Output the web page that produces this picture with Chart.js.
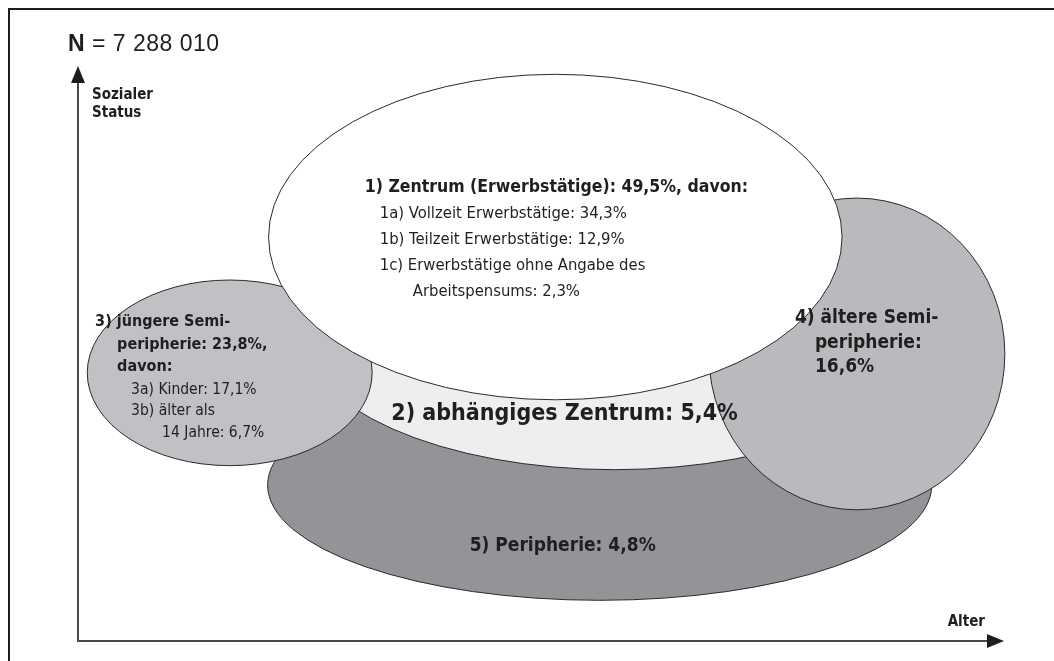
<!DOCTYPE html>
<html>
<head>
<meta charset="utf-8">
<script src="https://cdn.jsdelivr.net/npm/chart.js@4.4.0/dist/chart.umd.min.js"></script>
<style>
html, body { margin: 0; padding: 0; background: #fff; }
canvas { display: block; }
</style>
</head>
<body>
<canvas id="graficoGruppen" width="1054" height="661"></canvas>
<script>
// Daten
var gesamtzahl = '7 288 010';
var achsen = ['Alter', 'Sozialer', 'Status'];
var gruppen = ['Zentrum (Erwerbstätige)', 'abhängiges Zentrum', 'jüngere Semiperipherie', 'ältere Semiperipherie', 'Peripherie'];
var anteile = [49.5, 5.4, 23.8, 16.6, 4.8];
var zentrumTeile = ['Vollzeit Erwerbstätige', 'Teilzeit Erwerbstätige', 'Erwerbstätige ohne Angabe des Arbeitspensums'];
var zentrumAnteile = [34.3, 12.9, 2.3];
var semiTeile = ['Kinder', 'älter als 14 Jahre'];
var semiAnteile = [17.1, 6.7];

// Lage der Ellipsen in Achseneinheiten (0-100), in Zeichenreihenfolge
var ellipsen = [
	{ gruppe: 4, x: 56.4, y: 27.2, rx: 35.9, ry: 20.1, farbe: '#939497' },
	{ gruppe: 1, x: 58.0, y: 54.3, rx: 34.0, ry: 24.4, farbe: '#eeeeef' },
	{ gruppe: 2, x: 16.4, y: 46.8, rx: 15.4, ry: 16.2, farbe: '#c0c1c4' },
	{ gruppe: 3, x: 84.2, y: 50.1, rx: 16.0, ry: 27.2, farbe: '#b9babd' },
	{ gruppe: 0, x: 51.6, y: 70.5, rx: 31.0, ry: 28.4, farbe: '#ffffff' }
];

var SCHMAL = "'Liberation Sans Narrow', 'DejaVu Sans Condensed', sans-serif";

function pz(v) {
	return v.toFixed(1).replace('.', ',') + '%';
}

function teilen(text, wort) {
	var i = text.indexOf(wort);
	return [text.substring(0, i + wort.length), text.substring(i + wort.length + 1)];
}

function texte() {
	var z3 = teilen(zentrumTeile[2], 'des');
	var s3 = teilen(semiTeile[1], 'als');
	return [
		{ x: 31.0, y: 79.1, ausrichtung: 'left', zeilen: [
			{ t: '1) ' + gruppen[0] + ': ' + pz(anteile[0]) + ', davon:', dx: 0, dy: 0, fett: true, gr: 17.5 },
			{ t: '1a) ' + zentrumTeile[0] + ': ' + pz(zentrumAnteile[0]), dx: 15, dy: 26, gr: 16.5 },
			{ t: '1b) ' + zentrumTeile[1] + ': ' + pz(zentrumAnteile[1]), dx: 15, dy: 52, gr: 16.5 },
			{ t: '1c) ' + z3[0], dx: 15, dy: 78, gr: 16.5 },
			{ t: z3[1] + ': ' + pz(zentrumAnteile[2]), dx: 48, dy: 104, gr: 16.5 }
		]},
		{ x: 1.85, y: 55.7, ausrichtung: 'left', zeilen: [
			{ t: '3) ' + gruppen[2].replace('peripherie', '-'), dx: 0, dy: 0, fett: true, gr: 16 },
			{ t: 'peripherie: ' + pz(anteile[2]) + ',', dx: 22, dy: 23, fett: true, gr: 16 },
			{ t: 'davon:', dx: 22, dy: 45, fett: true, gr: 16 },
			{ t: '3a) ' + semiTeile[0] + ': ' + pz(semiAnteile[0]), dx: 36, dy: 68, gr: 15.5 },
			{ t: '3b) ' + s3[0], dx: 36, dy: 89, gr: 15.5 },
			{ t: s3[1] + ': ' + pz(semiAnteile[1]), dx: 67, dy: 111, gr: 15.5 }
		]},
		{ x: 77.5, y: 56.4, ausrichtung: 'left', zeilen: [
			{ t: '4) ' + gruppen[3].replace('peripherie', '-'), dx: 0, dy: 0, fett: true, gr: 19 },
			{ t: 'peripherie:', dx: 20, dy: 25, fett: true, gr: 19 },
			{ t: pz(anteile[3]), dx: 20, dy: 49, fett: true, gr: 19 }
		]},
		{ x: 52.6, y: 39.6, ausrichtung: 'center', zeilen: [
			{ t: '2) ' + gruppen[1] + ': ' + pz(anteile[1]), dx: 0, dy: 0, fett: true, gr: 23 }
		]},
		{ x: 52.4, y: 16.6, ausrichtung: 'center', zeilen: [
			{ t: '5) ' + gruppen[4] + ': ' + pz(anteile[4]), dx: 0, dy: 0, fett: true, gr: 19 }
		]}
	];
}

function pfeil(ctx, x, y, richtung) {
	ctx.beginPath();
	if (richtung === 'oben') {
		ctx.moveTo(x, y);
		ctx.lineTo(x - 7, y + 17);
		ctx.lineTo(x + 7, y + 17);
	} else {
		ctx.moveTo(x, y);
		ctx.lineTo(x - 17, y - 7);
		ctx.lineTo(x - 17, y + 7);
	}
	ctx.closePath();
	ctx.fill();
}

var diagrammPlugin = {
	id: 'diagramm',
	beforeDatasetsDraw: function(chart) {
		var ctx = chart.ctx;
		var sx = chart.scales.x;
		var sy = chart.scales.y;
		var area = chart.chartArea;

		ctx.save();

		// Rahmen
		ctx.strokeStyle = '#1e1e1e';
		ctx.lineWidth = 2;
		ctx.beginPath();
		ctx.moveTo(9, chart.height);
		ctx.lineTo(9, 9);
		ctx.lineTo(chart.width, 9);
		ctx.stroke();

		// Achsen
		ctx.strokeStyle = '#4a4a4a';
		ctx.fillStyle = '#1e1e1e';
		ctx.lineWidth = 2;
		ctx.beginPath();
		ctx.moveTo(area.left, area.top + 10);
		ctx.lineTo(area.left, area.bottom);
		ctx.lineTo(area.right - 10, area.bottom);
		ctx.stroke();
		pfeil(ctx, area.left, area.top - 2, 'oben');
		pfeil(ctx, area.right + 1, area.bottom, 'rechts');

		ctx.fillStyle = '#1e1e1e';
		ctx.textBaseline = 'middle';
		ctx.font = 'bold 15px ' + SCHMAL;
		ctx.textAlign = 'left';
		ctx.fillText(achsen[1], area.left + 14, 95);
		ctx.fillText(achsen[2], area.left + 14, 113);
		ctx.textAlign = 'right';
		ctx.fillText(achsen[0], area.right - 18, area.bottom - 19);

		ctx.textAlign = 'left';
		ctx.letterSpacing = '0.5px';
		ctx.font = 'bold 23px "Liberation Sans", sans-serif';
		ctx.fillText('N', 68, 45);
		var wn = ctx.measureText('N ').width;
		ctx.font = '23px "Liberation Sans", sans-serif';
		ctx.fillText('= ' + gesamtzahl, 68 + wn, 45);
		ctx.letterSpacing = '0px';

		// Ellipsen
		ellipsen.forEach(function(e) {
			var cx = sx.getPixelForValue(e.x);
			var cy = sy.getPixelForValue(e.y);
			var rx = sx.getPixelForValue(e.x + e.rx) - cx;
			var ry = cy - sy.getPixelForValue(e.y + e.ry);
			ctx.beginPath();
			ctx.ellipse(cx, cy, rx, ry, 0, 0, Math.PI * 2);
			ctx.fillStyle = e.farbe;
			ctx.fill();
			ctx.lineWidth = 1;
			ctx.strokeStyle = '#2a2a2a';
			ctx.stroke();
		});

		// Beschriftung
		ctx.fillStyle = '#1f1f1f';
		texte().forEach(function(b) {
			var bx = sx.getPixelForValue(b.x);
			var by = sy.getPixelForValue(b.y);
			ctx.textAlign = b.ausrichtung;
			b.zeilen.forEach(function(z) {
				ctx.font = (z.fett ? 'bold ' : '') + z.gr + 'px ' + SCHMAL;
				ctx.fillText(z.t, bx + z.dx, by + z.dy);
			});
		});

		ctx.restore();
	}
};

var grafico = new Chart(document.getElementById('graficoGruppen').getContext('2d'), {
	type: 'scatter',
	data: {
		datasets: [{
			label: 'Gruppen',
			data: ellipsen.map(function(e) { return { x: e.x, y: e.y }; }),
			pointRadius: 0
		}]
	},
	options: {
		responsive: false,
		animation: false,
		layout: { padding: { left: 78, top: 68, right: 51, bottom: 20 } },
		scales: {
			x: { type: 'linear', min: 0, max: 100, display: false },
			y: { type: 'linear', min: 0, max: 100, display: false }
		},
		plugins: {
			legend: { display: false },
			tooltip: { enabled: false }
		}
	},
	plugins: [diagrammPlugin]
});
</script>
</body>
</html>
